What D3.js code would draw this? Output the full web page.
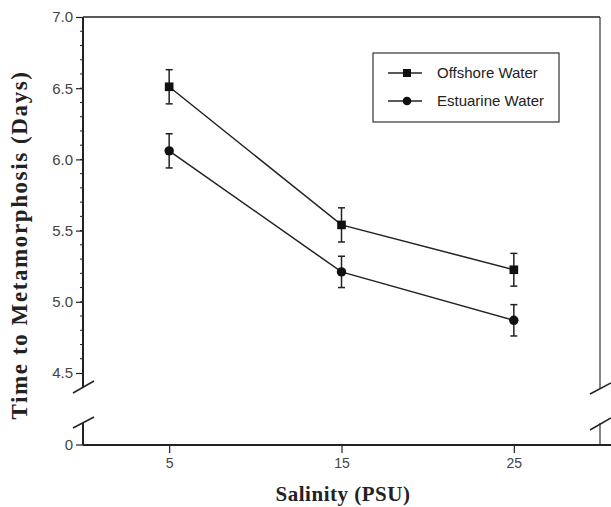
<!DOCTYPE html>
<meta charset="utf-8">
<style>
body { margin: 0; background: #fff; }
.axis path, .axis line { stroke: #222; }
.tick text { font-family: "Liberation Sans", Arial, sans-serif; font-size: 15px; fill: #444; }
.title { font-family: "Liberation Serif", "Times New Roman", serif; font-weight: bold; font-size: 21px; fill: #222; }
.series { fill: none; stroke: #222; stroke-width: 1.5px; }
.err { stroke: #222; stroke-width: 1.5px; }
.legend text { font-family: "Liberation Sans", Arial, sans-serif; font-size: 15px; fill: #222; }
</style>
<svg width="611" height="507"></svg>
<script src="https://cdn.jsdelivr.net/npm/d3@7"></script>
<script>

var salinity = [5, 15, 25];
var offshore = [6.51, 5.54, 5.225];
var offshoreErr = [0.12, 0.12, 0.115];
var estuarine = [6.06, 5.21, 4.87];
var estuarineErr = [0.12, 0.11, 0.11];
var seriesNames = ["Offshore Water", "Estuarine Water"];
var yTicks = [4.5, 5.0, 5.5, 6.0, 6.5, 7.0];
var xTicks = [5, 15, 25];

var svg = d3.select("svg");

var x = d3.scaleLinear().domain([0, 30]).range([83, 600]);
var y = d3.scaleLinear().domain([4.5, 7.0]).range([373, 17]);
var yBase = 445;

// frame: top line, right side
svg.append("line").attr("x1", 83).attr("x2", 600).attr("y1", 17).attr("y2", 17)
    .attr("stroke", "#222").attr("stroke-width", 1.5);
svg.append("line").attr("x1", 600).attr("x2", 600).attr("y1", 17).attr("y2", 388)
    .attr("stroke", "#333").attr("stroke-width", 1.2);
svg.append("line").attr("x1", 600).attr("x2", 600).attr("y1", 423).attr("y2", yBase)
    .attr("stroke", "#333").attr("stroke-width", 1.2);

// left axis (upper part)
var yAxis = d3.axisLeft(y).tickValues(yTicks).tickFormat(d3.format(".1f"))
    .tickSize(7).tickSizeOuter(0).tickPadding(3);
var gy = svg.append("g").attr("class", "axis").attr("transform", "translate(83,0)").call(yAxis);
gy.select(".domain").remove();
gy.selectAll(".tick line").attr("stroke-width", 1.2);
gy.append("line").attr("x1", 0).attr("x2", 0).attr("y1", 17).attr("y2", 387)
    .attr("stroke", "#222").attr("stroke-width", 2);
// minor ticks
gy.selectAll(".minor").data(d3.range(46, 70).map(function(d) { return d / 10; }))
  .enter().append("line")
    .attr("x1", -3).attr("x2", 0)
    .attr("y1", function(d) { return y(d); }).attr("y2", function(d) { return y(d); })
    .attr("stroke", "#222").attr("stroke-width", 1);

// lower left segment and zero
svg.append("line").attr("x1", 83).attr("x2", 83).attr("y1", 423).attr("y2", yBase)
    .attr("stroke", "#222").attr("stroke-width", 2);
svg.append("line").attr("x1", 76).attr("x2", 83).attr("y1", yBase).attr("y2", yBase)
    .attr("stroke", "#222").attr("stroke-width", 1.2);
svg.append("text").attr("x", 73).attr("y", yBase).attr("dy", "0.35em")
    .attr("text-anchor", "end")
    .style("font-family", "Liberation Sans, Arial, sans-serif").style("font-size", "15px").style("fill", "#444")
    .text("0");

// break marks
[[73, 393, 94, 381], [73, 428, 94, 417], [590, 394, 611, 383], [590, 430, 611, 418]].forEach(function(s) {
  svg.append("line").attr("x1", s[0]).attr("y1", s[1]).attr("x2", s[2]).attr("y2", s[3])
      .attr("stroke", "#222").attr("stroke-width", 1.5);
});

// bottom axis
var xAxis = d3.axisBottom(x).tickValues(xTicks).tickSize(8).tickSizeOuter(0).tickPadding(5);
var gx = svg.append("g").attr("class", "axis").attr("transform", "translate(0," + yBase + ")").call(xAxis);
gx.select(".domain").remove();
gx.selectAll(".tick line").attr("stroke-width", 1.2);
gx.selectAll(".tick text").style("font-size", "14px");
gx.append("line").attr("x1", 83).attr("x2", 611).attr("y1", 0).attr("y2", 0)
    .attr("stroke", "#222").attr("stroke-width", 2);

// titles
svg.append("text").attr("class", "title")
    .attr("transform", "translate(27,245) rotate(-90)")
    .attr("text-anchor", "middle")
    .style("font-size", "23px")
    .style("letter-spacing", "1.6px")
    .text("Time to Metamorphosis (Days)");
svg.append("text").attr("class", "title")
    .attr("x", 343).attr("y", 501).attr("text-anchor", "middle")
    .style("letter-spacing", "0.5px")
    .text("Salinity (PSU)");

// series
var series = [
  { name: seriesNames[0], vals: offshore, err: offshoreErr, sym: d3.symbolSquare, size: 75 },
  { name: seriesNames[1], vals: estuarine, err: estuarineErr, sym: d3.symbolCircle, size: 70 }
];

var line = d3.line().x(function(d) { return x(d[0]); }).y(function(d) { return y(d[1]); });

series.forEach(function(s) {
  var pts = salinity.map(function(v, i) { return [v, s.vals[i], s.err[i]]; });
  svg.append("path").attr("class", "series").attr("d", line(pts));
  var g = svg.append("g");
  pts.forEach(function(p) {
    var cx = x(p[0]);
    g.append("line").attr("class", "err").attr("x1", cx).attr("x2", cx)
        .attr("y1", y(p[1] - p[2])).attr("y2", y(p[1] + p[2]));
    [p[1] - p[2], p[1] + p[2]].forEach(function(v) {
      g.append("line").attr("class", "err").attr("x1", cx - 3.5).attr("x2", cx + 3.5)
          .attr("y1", y(v)).attr("y2", y(v));
    });
    g.append("path").attr("d", d3.symbol().type(s.sym).size(s.size)())
        .attr("transform", "translate(" + cx + "," + y(p[1]) + ")")
        .attr("fill", "#111");
  });
});

// legend
var lg = svg.append("g").attr("class", "legend");
lg.append("rect").attr("x", 373).attr("y", 53).attr("width", 186).attr("height", 69)
    .attr("fill", "#fff").attr("stroke", "#333").attr("stroke-width", 1.2);
series.forEach(function(s, i) {
  var ly = 73 + i * 28;
  lg.append("line").attr("x1", 388).attr("x2", 422).attr("y1", ly).attr("y2", ly)
      .attr("stroke", "#222").attr("stroke-width", 1.5);
  lg.append("path").attr("d", d3.symbol().type(s.sym).size(s.size * 0.85)())
      .attr("transform", "translate(407," + ly + ")").attr("fill", "#111");
  lg.append("text").attr("x", 437).attr("y", ly).attr("dy", "0.35em").text(s.name);
});

</script>
